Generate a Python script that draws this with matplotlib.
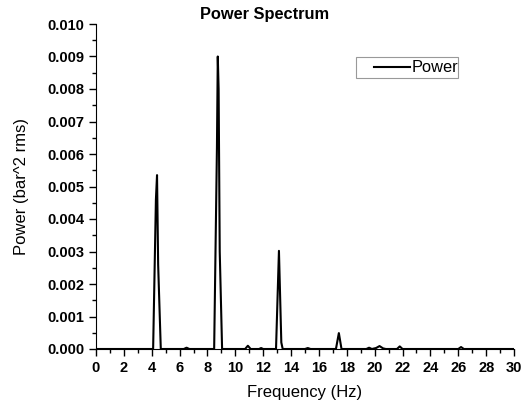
import matplotlib
matplotlib.use("Agg")
import matplotlib.pyplot as plt
from matplotlib.patches import Rectangle
from matplotlib.lines import Line2D
from matplotlib.ticker import MultipleLocator, FormatStrFormatter

plt.rcParams['font.family'] = ['Liberation Sans', 'DejaVu Sans']

freq = [0.0, 4.10, 4.30, 4.38, 4.46, 4.65, 6.3, 6.5, 6.7, 8.48, 8.68, 8.74, 8.80, 8.88, 9.05,
        10.7, 10.9, 11.1, 11.7, 11.85, 12.0, 12.92, 13.13, 13.30, 13.40, 15.0, 15.2, 15.4,
        17.22, 17.43, 17.62, 19.4, 19.6, 19.8, 20.1, 20.35, 20.6, 20.8, 21.6, 21.8, 22.0,
        26.0, 26.2, 26.4, 30.0]
power = [0.0, 0.0, 0.0046, 0.00535, 0.0026, 0.0, 0.0, 0.00004, 0.0, 0.0, 0.0062, 0.0090, 0.0080, 0.0030, 0.0,
         0.0, 0.00010, 0.0, 0.0, 0.00003, 0.0, 0.0, 0.00302, 0.0002, 0.0, 0.0, 0.00003, 0.0,
         0.0, 0.00049, 0.0, 0.0, 0.00004, 0.0, 0.00003, 0.00009, 0.00002, 0.0, 0.0, 0.00008, 0.0,
         0.0, 0.00006, 0.0, 0.0]

W, H = 523, 403
fig = plt.figure(figsize=(W / 100, H / 100), dpi=100)
ax = fig.add_axes([96 / W, 1 - 349 / H, 418 / W, 325 / H])
ax.plot(freq, power, color='black', lw=1.5, label='Power')
ax.set_xlim(0, 30)
ax.set_ylim(0, 0.010)
for s in ['top', 'right']:
    ax.spines[s].set_visible(False)
ax.xaxis.set_major_locator(MultipleLocator(2))
ax.xaxis.set_minor_locator(MultipleLocator(1))
ax.yaxis.set_major_locator(MultipleLocator(0.001))
ax.yaxis.set_minor_locator(MultipleLocator(0.0005))
ax.yaxis.set_major_formatter(FormatStrFormatter('%.3f'))
ax.tick_params(which='major', direction='out', length=5, width=1)
ax.tick_params(which='minor', direction='out', length=3, width=1)
for lab in ax.get_xticklabels() + ax.get_yticklabels():
    lab.set_fontweight('bold')
    lab.set_fontsize(10.5)
ax.set_xlabel('Frequency (Hz)', fontsize=12, labelpad=7)
ax.set_ylabel('Power (bar^2 rms)', fontsize=12, labelpad=13)
fig.text(265 / W, 1 - 15 / H, 'Power Spectrum', ha='center', va='center', fontweight='bold', fontsize=11.8)

# legend: frame drawn as box, entry as line + text
fig.patches.append(Rectangle((356 / W, 1 - 78 / H), 102 / W, 21 / H, transform=fig.transFigure,
                             fill=False, edgecolor='#999999', lw=0.8))
fig.lines.append(Line2D([374 / W, 410 / W], [1 - 67 / H, 1 - 67 / H], transform=fig.transFigure,
                        color='black', lw=1.5))
fig.text(412 / W, 1 - 67 / H, ax.get_lines()[0].get_label(), ha='left', va='center', fontsize=11.8)
fig.savefig('out.png', dpi=100)
